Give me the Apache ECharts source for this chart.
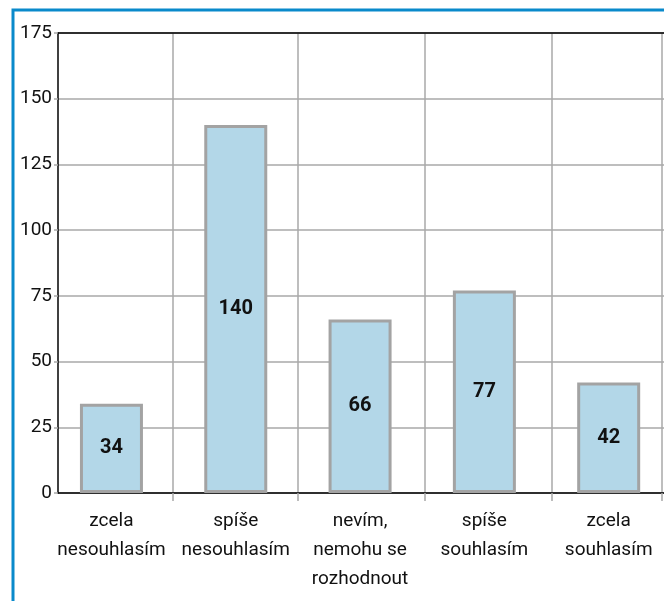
<!DOCTYPE html>
<html>
<head>
<meta charset="utf-8">
<script src="https://cdn.jsdelivr.net/npm/echarts@6/dist/echarts.min.js"></script>
<style>
  html, body { margin: 0; padding: 0; background: #fff; }
  #main { width: 664px; height: 601px; }
</style>
</head>
<body>
<div id="main"></div>
<script>
// data
const categories = ['zcela\nnesouhlasím', 'spíše\nnesouhlasím', 'nevím,\nnemohu se\nrozhodnout', 'spíše\nsouhlasím', 'zcela\nsouhlasím']
const counts = [34, 140, 66, 77, 42]
const yTicks = [0, 25, 50, 75, 100, 125, 150, 175]
// category borders (vertical grid lines), in category units
const gridStops = [0.49, 1.5, 2.52, 3.54, 4.43]

const font = 'Roboto'

const option = {
  animation: false,
  backgroundColor: '#fff',
  graphic: [
    {
      type: 'rect',
      shape: { x: 13, y: 10, width: 700, height: 700 },
      style: { fill: 'none', stroke: '#0a8acb', lineWidth: 3 },
      silent: true
    }
  ],
  grid: {
    left: 58,
    right: 0,
    top: 33,
    bottom: 108
  },
  xAxis: [
    {
      type: 'value',
      min: -0.43,
      max: 4.445,
      axisLine: { show: true, onZero: false, lineStyle: { color: '#000', width: 1.5 } },
      axisTick: {
        show: true,
        customValues: gridStops,
        length: 8,
        lineStyle: { color: '#a8a8a8', width: 1.5 }
      },
      splitLine: { show: true, lineStyle: { color: '#a8a8a8', width: 1.5 } },
      axisLabel: {
        customValues: [0, 1, 2, 3, 4],
        formatter: v => categories[Math.round(v)],
        fontFamily: font,
        fontSize: 19,
        color: '#111',
        lineHeight: 29,
        margin: 14
      }
    },
    {
      type: 'value',
      position: 'top',
      min: -0.43,
      max: 4.445,
      axisLine: { show: true, onZero: false, lineStyle: { color: '#000', width: 1.5 } },
      axisTick: { show: false },
      axisLabel: { show: false },
      splitLine: { show: false }
    }
  ],
  yAxis: {
    type: 'value',
    min: 0,
    max: 175,
    interval: 25,
    axisLine: { show: true, onZero: false, lineStyle: { color: '#000', width: 1.5 } },
    axisTick: { show: true, length: 4, lineStyle: { color: '#a8a8a8', width: 1.5 } },
    splitLine: { show: true, lineStyle: { color: '#a8a8a8', width: 1.5 } },
    axisLabel: {
      fontFamily: font,
      fontSize: 19,
      color: '#111',
      margin: 6,
      formatter: v => (yTicks.indexOf(v) >= 0 ? String(v) : '')
    }
  },
  series: [
    {
      type: 'bar',
      xAxisIndex: 0,
      barWidth: 63,
      data: counts.map((c, i) => [i, c]),
      itemStyle: {
        color: '#b3d7e8',
        borderColor: '#a3a3a3',
        borderWidth: 3
      },
      label: {
        show: true,
        position: 'inside',
        fontFamily: font,
        fontWeight: 'bold',
        fontSize: 20,
        color: '#111',
        formatter: p => p.value[1]
      }
    }
  ]
}

const chart = echarts.init(document.getElementById('main'), null, { renderer: 'canvas' })
chart.setOption(option)
window.addEventListener('resize', () => chart.resize())
</script>
</body>
</html>
